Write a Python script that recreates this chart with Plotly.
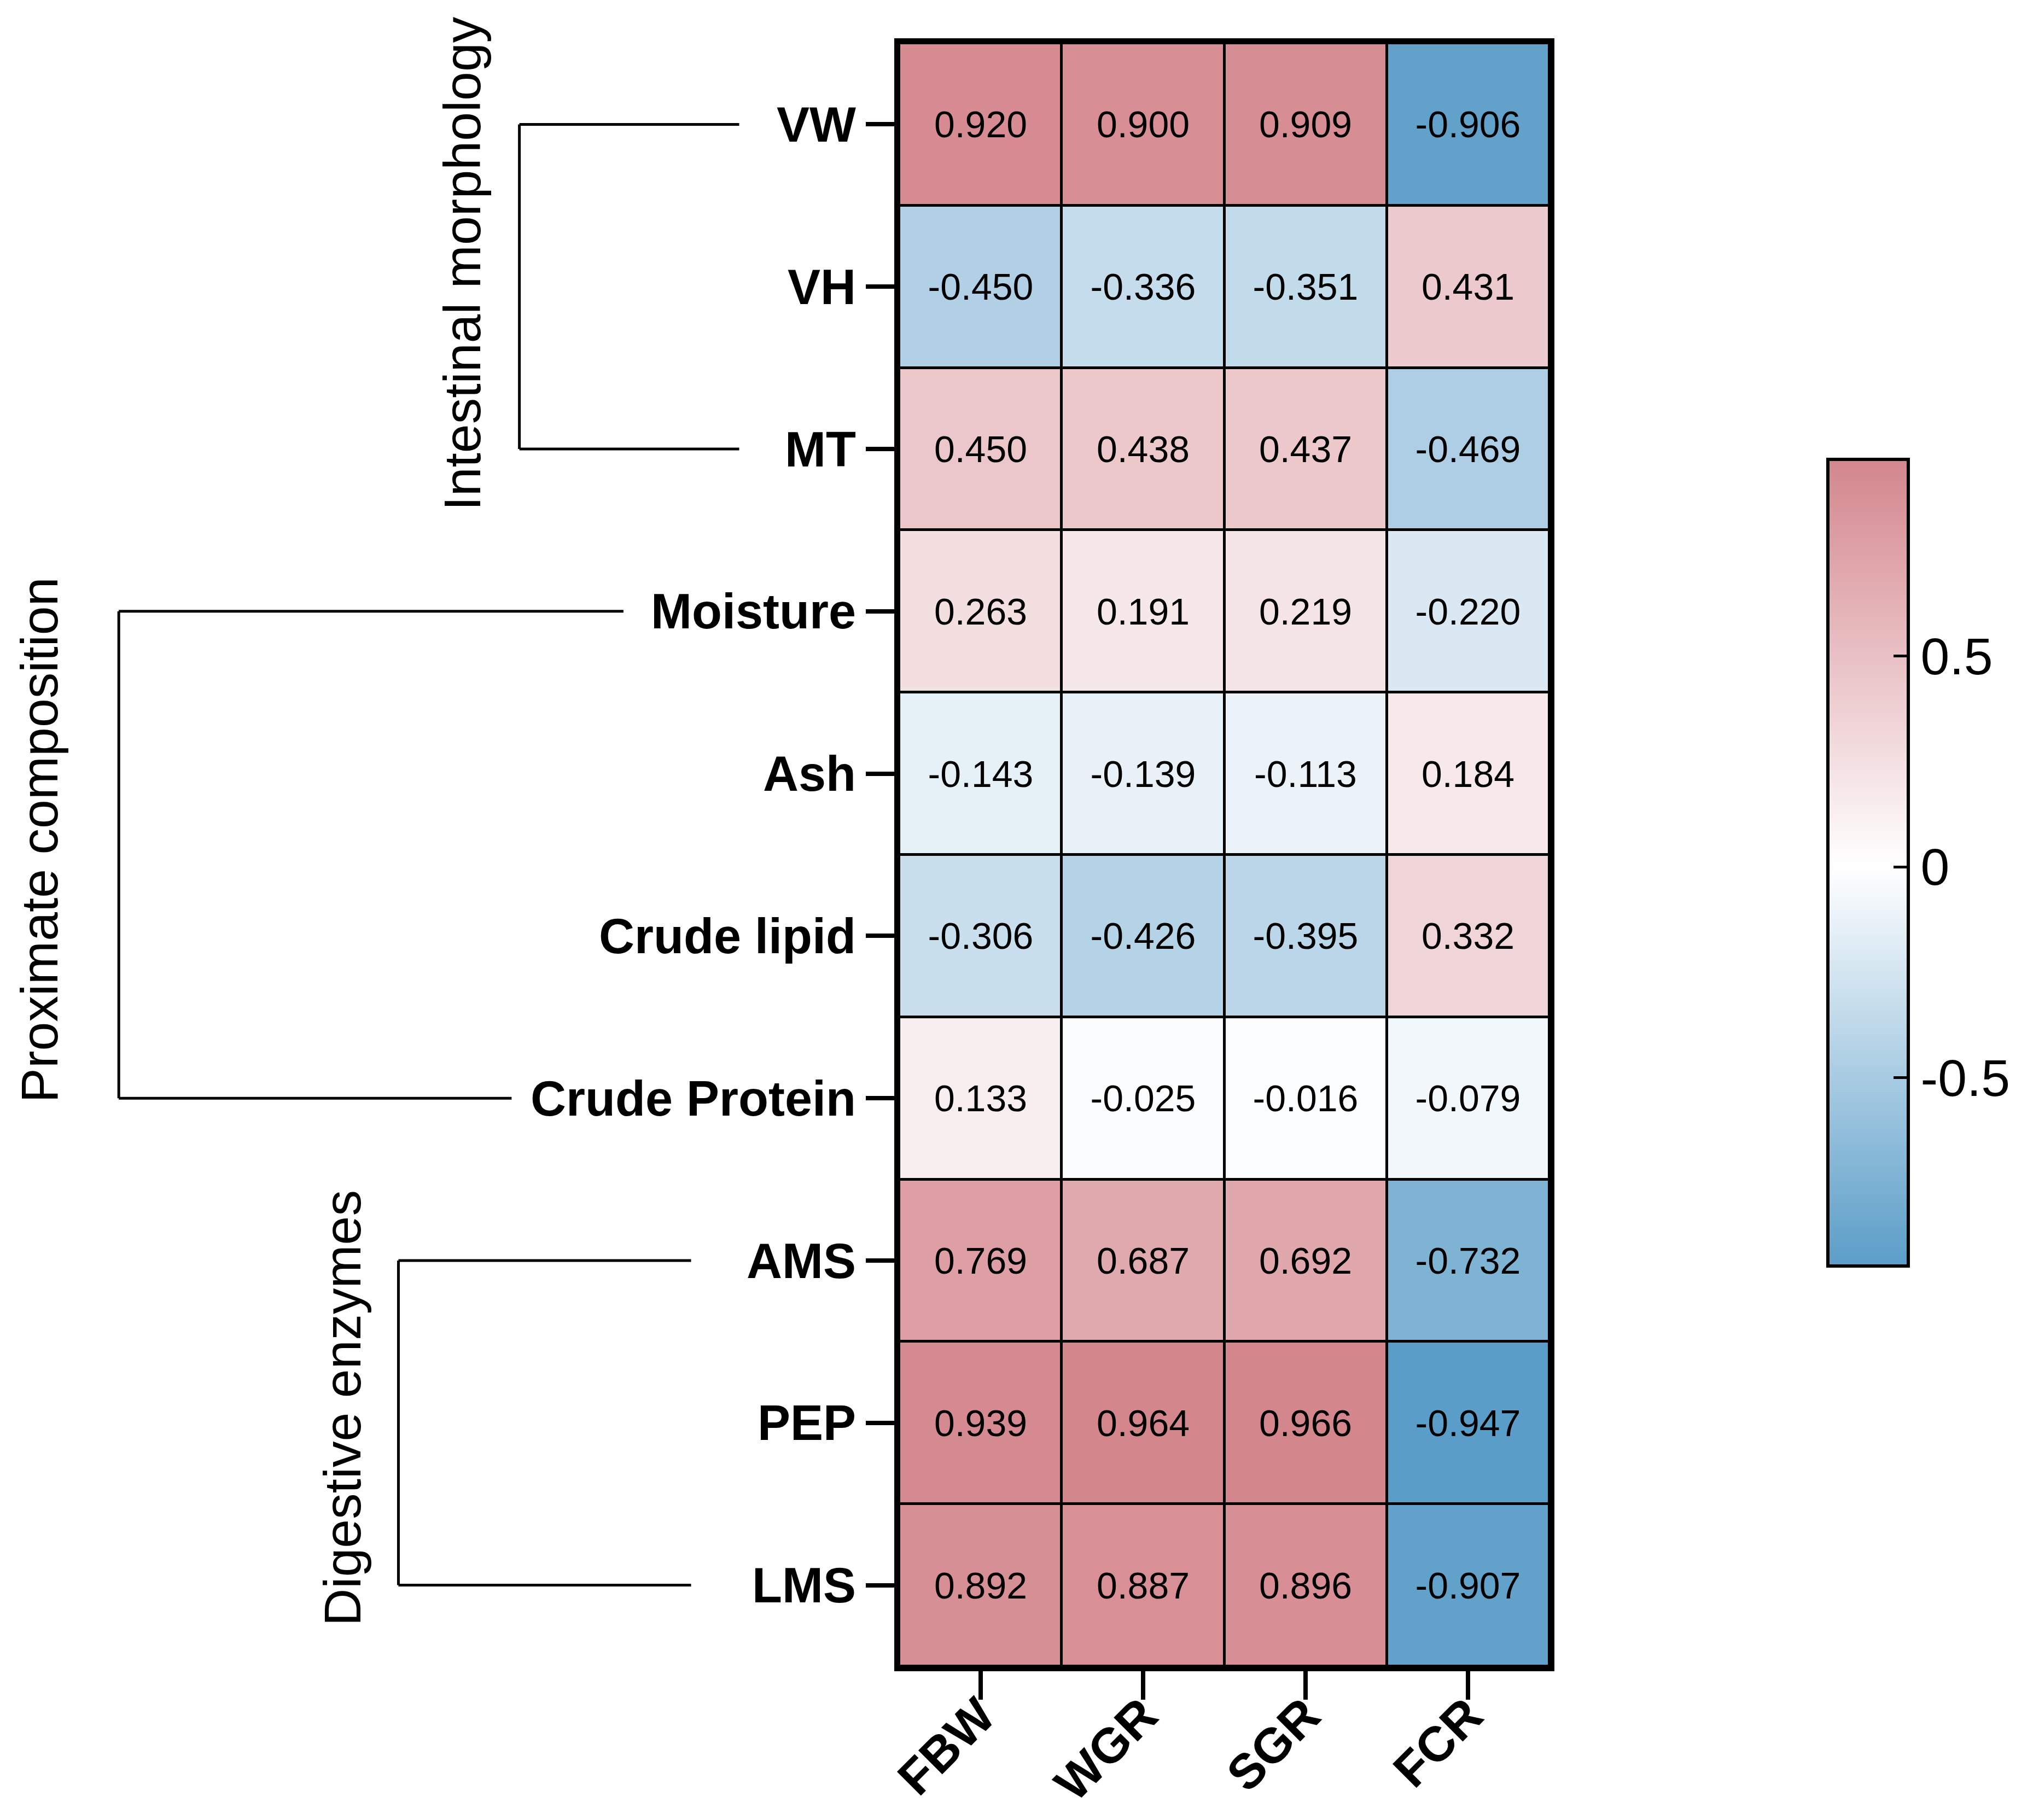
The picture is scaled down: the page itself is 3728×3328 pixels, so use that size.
import plotly.graph_objects as go

# Correlation matrix (rows = indices, columns = growth parameters)
rows = ["VW", "VH", "MT", "Moisture", "Ash", "Crude lipid", "Crude Protein",
        "AMS", "PEP", "LMS"]
cols = ["FBW", "WGR", "SGR", "FCR"]

vw = [0.920, 0.900, 0.909, -0.906]
vh = [-0.450, -0.336, -0.351, 0.431]
mt = [0.450, 0.438, 0.437, -0.469]
moisture = [0.263, 0.191, 0.219, -0.220]
ash = [-0.143, -0.139, -0.113, 0.184]
crude_lipid = [-0.306, -0.426, -0.395, 0.332]
crude_protein = [0.133, -0.025, -0.016, -0.079]
ams = [0.769, 0.687, 0.692, -0.732]
pep = [0.939, 0.964, 0.966, -0.947]
lms = [0.892, 0.887, 0.896, -0.907]

z = [vw, vh, mt, moisture, ash, crude_lipid, crude_protein, ams, pep, lms]

cbar_ticks = [-0.5, 0, 0.5]
cbar_text = ["-0.5", "0", "0.5"]

# groups: (label, first row, last row)
groups = [
    ("Intestinal morphology", "VW", "MT"),
    ("Proximate composition", "Moisture", "Crude Protein"),
    ("Digestive enzymes", "AMS", "LMS"),
]

FONT = "Liberation Sans, Arial, sans-serif"
W, H = 3728, 3328
L, R, T, B = 1636, 903, 71, 289

zmin = min(min(r) for r in z)
zmax = max(max(r) for r in z)
mid = (0 - zmin) / (zmax - zmin)
colorscale = [[0, "#5a9dc8"], [mid, "#ffffff"], [1, "#d4868d"]]

text = [[f"{v:.3f}" for v in r] for r in z]

fig = go.Figure()
fig.add_trace(
    go.Heatmap(
        z=z,
        x=cols,
        y=rows,
        text=text,
        texttemplate="%{text}",
        textfont=dict(family=FONT, size=68, color="black"),
        colorscale=colorscale,
        zmin=zmin,
        zmax=zmax,
        xgap=5,
        ygap=5,
        colorbar=dict(
            x=(3334 - L) / (W - L - R),
            xanchor="left",
            xpad=0,
            y=0.495,
            yanchor="middle",
            ypad=0,
            len=0.497,
            lenmode="fraction",
            thickness=147,
            thicknessmode="pixels",
            outlinewidth=6,
            outlinecolor="black",
            tickvals=cbar_ticks,
            ticktext=cbar_text,
            ticks="inside",
            ticklen=30,
            tickwidth=5,
            tickcolor="black",
            tickfont=dict(family=FONT, size=95, color="black"),
        ),
        hoverinfo="skip",
    )
)

# bracket and group-label positions (paper x for vertical line, line ends, label)
bracket_x = {
    "Intestinal morphology": (-0.584, [-0.246, -0.246], -0.672, 0.857),
    "Proximate composition": (-1.200, [-0.424, -0.596], -1.322, 4.41),
    "Digestive enzymes": (-0.770, [-0.320, -0.320], -0.856, 7.91),
}

for label, r0, r1 in groups:
    xv, (xe0, xe1), xt, yt = bracket_x[label]
    i0, i1 = rows.index(r0), rows.index(r1)
    line = dict(color="black", width=5)
    fig.add_shape(type="line", xref="paper", yref="y", x0=xv, x1=xv,
                  y0=i0, y1=i1, line=line)
    fig.add_shape(type="line", xref="paper", yref="y", x0=xv, x1=xe0,
                  y0=i0, y1=i0, line=line)
    fig.add_shape(type="line", xref="paper", yref="y", x0=xv, x1=xe1,
                  y0=i1, y1=i1, line=line)
    fig.add_annotation(
        text=label, xref="paper", yref="y", x=xt, y=yt,
        xanchor="center", yanchor="middle",
        textangle=-90, showarrow=False,
        font=dict(family=FONT, size=95, color="black"),
    )

fig.update_xaxes(
    range=[-0.5, len(cols) - 0.5],
    showline=True, linewidth=9, linecolor="black", mirror=True,
    ticks="outside", ticklen=52, tickwidth=8, tickcolor="black",
    tickangle=-45, ticklabelstandoff=-60, showgrid=False, zeroline=False,
    tickfont=dict(family=FONT, size=90, color="black", weight="bold"),
)
fig.update_yaxes(
    range=[len(rows) - 0.5, -0.5],
    showline=True, linewidth=9, linecolor="black", mirror=True,
    ticks="outside", ticklen=52, tickwidth=8, tickcolor="black",
    ticklabelstandoff=0, showgrid=False, zeroline=False,
    tickfont=dict(family=FONT, size=90, color="black", weight="bold"),
)

fig.update_layout(
    width=W,
    height=H,
    margin=dict(l=L, r=R, t=T, b=B, autoexpand=False),
    plot_bgcolor="black",
    paper_bgcolor="white",
    showlegend=False,
)

fig.write_html("out.html")
